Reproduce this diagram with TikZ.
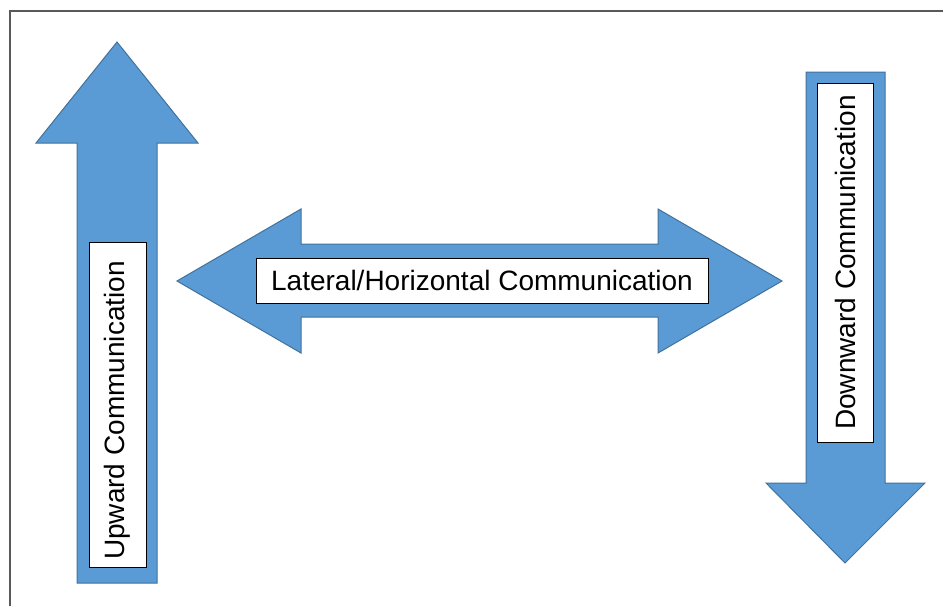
\documentclass[tikz,border=0pt]{standalone}
\usepackage{fontspec}
\setmainfont{Liberation Sans}
\definecolor{arrowblue}{HTML}{5B9BD5}
\definecolor{arrowedge}{HTML}{41719C}
\definecolor{framegray}{HTML}{595959}
\begin{document}
\begin{tikzpicture}[x=1pt,y=-1pt,
  bigarrow/.style={fill=arrowblue,draw=arrowedge,line width=1pt,line join=miter},
  label/.style={draw=black,fill=white,line width=0.8pt,inner sep=0pt,font=\fontsize{28}{28}\selectfont}]
\useasboundingbox (0,0) rectangle (943,606);
% frame
\draw[framegray,line width=1.6pt] (10,606) -- (10,11) -- (943,11);
% upward arrow
\draw[bigarrow] (117,42) -- (198,143) -- (157,143) -- (157,583) -- (77,583) -- (77,143) -- (36,143) -- cycle;
% downward arrow
\draw[bigarrow] (806,72) -- (885,72) -- (885,483) -- (925,483) -- (845,563) -- (766,483) -- (806,483) -- cycle;
% lateral double arrow
\draw[bigarrow] (177,281) -- (301,209) -- (301,244) -- (658,244) -- (658,209) -- (782,281) -- (658,353) -- (658,317) -- (301,317) -- (301,353) -- cycle;
% labels
\node[label,minimum width=452pt,minimum height=45pt] (lat) at (482,280.5) {Lateral/Horizontal Communication};
\node[label,rotate=90,minimum width=325pt,minimum height=57pt] (up) at (117.5,404.5) {\raisebox{0pt}{\hspace*{-12pt}Upward Communication}};
\node[label,rotate=90,minimum width=359pt,minimum height=56pt] (down) at (845,262.5) {Downward Communication};
\end{tikzpicture}
\end{document}
